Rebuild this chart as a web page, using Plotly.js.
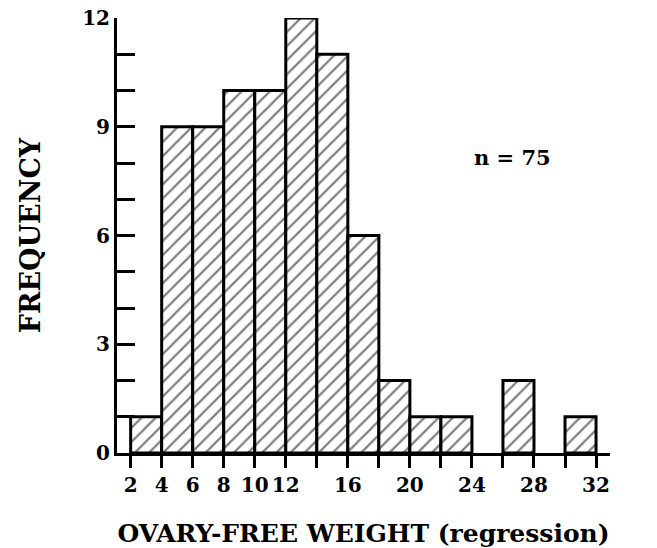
<!DOCTYPE html>
<html>
<head>
<meta charset="utf-8">
<script src="https://cdn.plot.ly/plotly-3.0.1.min.js"></script>
<style>html,body{margin:0;padding:0;background:#fff;}#chart{width:657px;height:548px;}</style>
</head>
<body>
<div id="chart"></div>
<script>
// Histogram bins (lower edges, width 2) and frequencies
const binStarts = [2, 4, 6, 8, 10, 12, 14, 16, 18, 20, 22, 24, 26, 28, 30];
const binWidth = 2;
const counts = [1, 9, 9, 10, 10, 12, 11, 6, 2, 1, 1, 0, 2, 0, 1];
const xTickVals = [2, 4, 6, 8, 10, 12, 14, 16, 18, 20, 22, 24, 26, 28, 30, 32];
const xTickText = ['2', '4', '6', '8', '10', '12', '', '16', '', '20', '', '24', '', '28', '', '32'];
const yTickVals = [0, 1, 2, 3, 4, 5, 6, 7, 8, 9, 10, 11, 12];
const yTickText = ['0', '', '', '3', '', '', '6', '', '', '9', '', '', '12'];
const annotationText = 'n = 75';

const FONT = 'DejaVu Serif, serif';

const trace = {
  type: 'bar',
  x: binStarts.map(s => s + binWidth / 2),
  y: counts.map(c => c === 0 ? null : c),
  width: binStarts.map(() => binWidth),
  marker: {
    color: '#ffffff',
    line: {color: '#000', width: 3},
    pattern: {shape: '/', fgcolor: '#000', bgcolor: '#fff', size: 10, solidity: 0.22, fillmode: 'overlay'}
  },
  hoverinfo: 'skip'
};

const layout = {
  width: 657, height: 548,
  margin: {l: 117, r: 47, t: 18, b: 95},
  paper_bgcolor: '#fff', plot_bgcolor: '#fff',
  showlegend: false,
  bargap: 0,
  font: {family: FONT, color: '#000'},
  xaxis: {
    range: [1.12, 32.9],
    tickvals: xTickVals, ticktext: xTickText,
    ticks: 'outside', ticklen: 12, tickwidth: 3, tickcolor: '#000',
    showline: true, linewidth: 3, linecolor: '#000',
    showgrid: false, zeroline: false,
    tickfont: {family: FONT, size: 20, color: '#000', weight: 'bold'},
    title: {text: 'OVARY-FREE WEIGHT (regression)', font: {family: FONT, size: 25, color: '#000', weight: 'bold'}, standoff: 34}
  },
  yaxis: {
    range: [0, 12],
    tickvals: yTickVals, ticktext: yTickText,
    ticks: 'inside', ticklen: 18, tickwidth: 3, tickcolor: '#000',
    showline: true, linewidth: 3, linecolor: '#000',
    showgrid: false, zeroline: false,
    tickfont: {family: FONT, size: 20, color: '#000', weight: 'bold'},
    title: {text: 'FREQUENCY', font: {family: FONT, size: 27, color: '#000', weight: 'bold'}, standoff: 34}
  },
  annotations: [{
    text: annotationText, xref: 'paper', yref: 'paper',
    x: 0.885, y: 0.712, showarrow: false,
    font: {family: FONT, size: 21, color: '#000', weight: 'bold'}
  }]
};

Plotly.newPlot('chart', [trace], layout, {displayModeBar: false, staticPlot: true});
</script>
</body>
</html>
